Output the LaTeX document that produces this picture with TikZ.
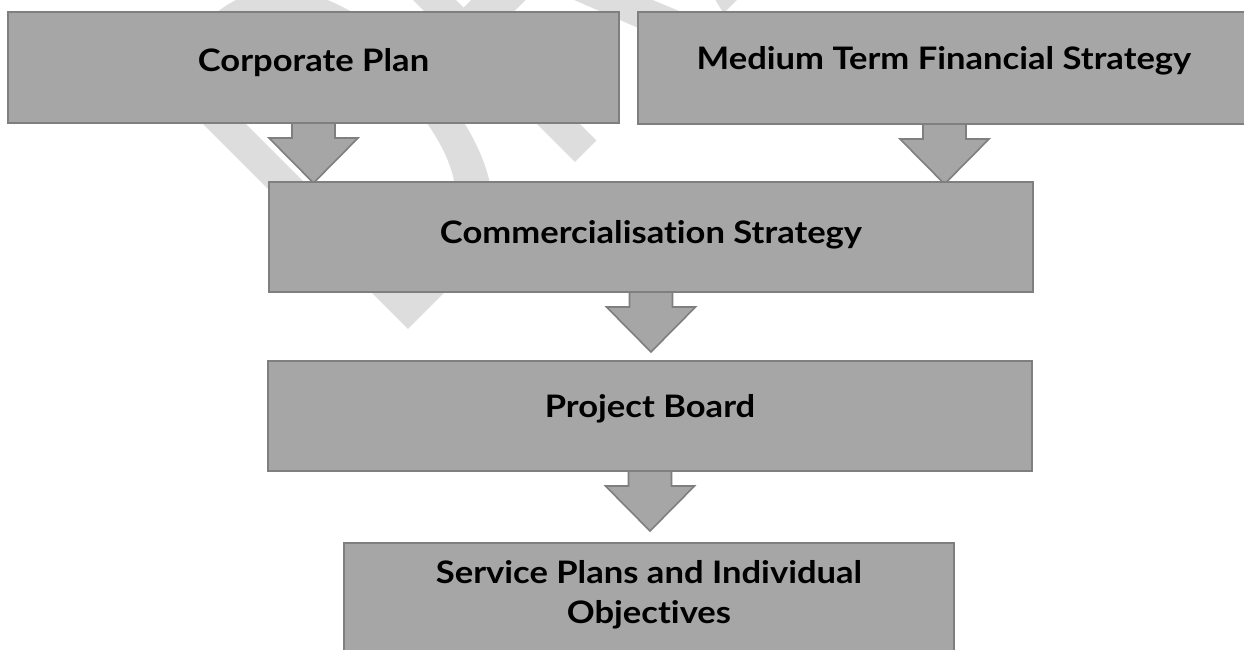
\documentclass[tikz,border=0pt]{standalone}
\usepackage{fontspec}
\setmainfont{Lato}[Ligatures=NoCommon, FakeStretch=1.115]
\newfontfamily\wmfont{Liberation Sans}
\usetikzlibrary{calc,backgrounds}

\definecolor{boxfill}{HTML}{A6A6A6}
\definecolor{boxline}{HTML}{7F7F7F}
\definecolor{wmgray}{HTML}{DDDDDD}

\pgfdeclarelayer{watermark}
\pgfsetlayers{watermark,background,main}

\tikzset{
  stage/.style={draw=boxline, fill=boxfill, line width=2.5pt, rectangle,
    inner sep=0pt, outer sep=0pt, anchor=north west},
  caption/.style={font=\bfseries\fontsize{31}{40}\selectfont, text=black,
    inner sep=0pt, anchor=base, align=center},
  flow/.style={draw=boxline, fill=boxfill, line width=1.6pt, line join=miter},
  wmark/.style={font=\wmfont\fontsize{327}{327}\selectfont, text=wmgray,
    rotate=45, anchor=base west, inner sep=0pt},
}

% block arrow hanging below #1, pointing at #2; its tip is named #3
\newcommand\blockarrow[3]{%
  \begin{pgfonlayer}{background}
    \coordinate (#3) at ($(#1.south)!60pt!(#1.south |- #2.north)$);
    \draw[flow] ($(#1.south)+(-21.5,-4)$) -- ($(#1.south)+(-21.5,15)$)
      -- ($(#1.south)+(-44.5,15)$) -- (#3) -- ($(#1.south)+(44.5,15)$)
      -- ($(#1.south)+(21.5,15)$) -- ($(#1.south)+(21.5,-4)$) -- cycle;
  \end{pgfonlayer}}

\begin{document}
\begin{tikzpicture}[x=1pt,y=-1pt]
  \useasboundingbox (0,0) rectangle (1244,650);

  % page and faint watermark
  \begin{pgfonlayer}{watermark}
    \fill[white] (0,0) rectangle (1244,650);
    \node[wmark] (draft) at (389,349) {\scalebox{1}[1.6]{DRAFT}};
  \end{pgfonlayer}

  % stages
  \node[stage, minimum width=611pt, minimum height=111pt] (cp) at (8,12) {};
  \node[stage, minimum width=613pt, minimum height=112pt] (mtfs) at (638,12) {};
  \node[stage, minimum width=764pt, minimum height=110pt] (cs) at (269,182) {};
  \node[stage, minimum width=764pt, minimum height=110pt] (pb) at (268,361) {};
  \node[stage, minimum width=610pt, minimum height=120pt] (sp) at (344,543) {};

  % captions
  \node[caption] (cpt) at (313.5,72) {Corporate Plan};
  \node[caption] (mtfst) at (944,70) {Medium Term Financial Strategy};
  \node[caption] (cst) at (651,243) {Commercialisation Strategy};
  \node[caption] (pbt) at (650,417) {Project Board};
  \node[caption] (spt) at (649,623) {Service Plans and Individual\\Objectives};

  % flow between stages
  \blockarrow{cp}{cs}{a1}
  \blockarrow{mtfs}{cs}{a2}
  \blockarrow{cs}{pb}{a3}
  \blockarrow{pb}{sp}{a4}
\end{tikzpicture}
\end{document}
